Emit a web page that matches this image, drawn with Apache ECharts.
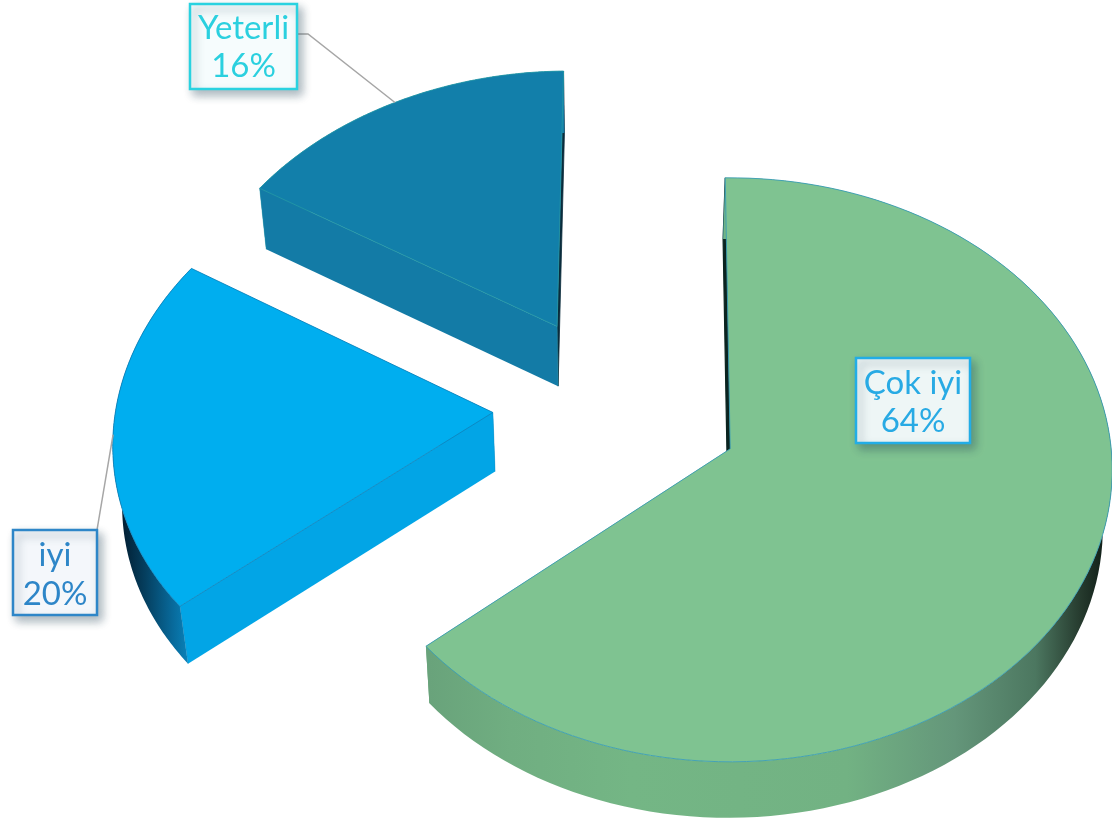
<!DOCTYPE html>
<html>
<head>
<meta charset="utf-8">
<style>html,body{margin:0;padding:0;background:#fff}#c{width:1112px;height:822px}</style>
<script src="https://cdn.jsdelivr.net/npm/echarts@6/dist/echarts.min.js"></script>
</head>
<body>
<div id="c"></div>
<script>
// Data
var categories = ['Çok iyi', 'iyi', 'Yeterli'];
var percentValues = [64, 20, 16];

// Styles
var topColors = ['#7FC391', '#00AEEF', '#127FAA'];
var edgeColors = ['#3A9DB4', '#0F86BE', '#2296A6'];
var startFaceColors = ['#0B2420', '#02A5E6', '#137BA6'];
var endFaceColors = ['#69A37B', '#02A5E6', '#0A2C3C'];
var sliverStroke = [[1.2, 0], [0, 0], [0, 0.8]];
var rimStops = [
  [[0,'#69A37B'],[0.12,'#70AE81'],[0.3,'#74B685'],[0.62,'#72B283'],[0.78,'#64967A'],[0.9,'#4C7760'],[0.97,'#24382C'],[1,'#13211A']],
  [[0,'#021F33'],[0.3,'#053F5F'],[0.65,'#08699A'],[1,'#0A93CF']],
  [[0,'#137BA6'],[1,'#137BA6']]
];
var labelBoxes = [
  {x:856, y:358, w:114, h:85, line1:383, line2:421, border:'#22ADE6', fill:'#EEF6F6', text:'#28AAE4', elbow:null},
  {x:13, y:530, w:84, h:85, line1:555, line2:594, border:'#2E86C8', fill:'#F4F7FB', text:'#2E86C8', from:[97,530], elbow:null},
  {x:190, y:4, w:107, h:85, line1:28, line2:66, border:'#2AD2E0', fill:'#F6FCFD', text:'#2BD0DF', from:[297,34], elbow:[308,34]}
];

// Perspective model of the tilted disk
var view = {x0:730, y0:449, a:381, b:290.5, k:0.0719, startDeg:-0.8, explode:0.335, ou:-0.3045, ov:0.139,
            nudges:[[0,0],[0.0105,0.0135],[0.002,0.005]],
            vanishX:610, shrink:0.0187, drop:62.6, dropSlope:0.0087};

function project(u, v) {
  var w = 1 + view.k * v;
  return [view.x0 + view.a * u / w, view.y0 - view.b * v / w];
}
function extrude(p) {
  return [p[0] + (view.vanishX - p[0]) * view.shrink, p[1] + view.drop - view.dropSlope * p[1]];
}
var total = percentValues.reduce(function (s, v) { return s + v; }, 0);
function sliceAngles(i) {
  var before = 0;
  for (var j = 0; j < i; j++) before += percentValues[j];
  var a0 = view.startDeg + before / total * 360;
  var a1 = a0 + percentValues[i] / total * 360;
  return [a0, a1];
}
function sliceGeom(i) {
  var ang = sliceAngles(i), mid = (ang[0] + ang[1]) / 2 * Math.PI / 180;
  var cu = view.ou + view.explode * Math.sin(mid) + view.nudges[i][0];
  var cv = view.ov + view.explode * Math.cos(mid) + view.nudges[i][1];
  var arc = [], steps = 120;
  for (var s = 0; s <= steps; s++) {
    var t = (ang[0] + (ang[1] - ang[0]) * s / steps) * Math.PI / 180;
    arc.push(project(cu + Math.sin(t), cv + Math.cos(t)));
  }
  return {apex: project(cu, cv), arc: arc, midPoint: project(cu + Math.sin(mid), cv + Math.cos(mid))};
}

function renderSlice(params, api) {
  var i = api.value(0), g = sliceGeom(i), arc = g.arc;
  var arcB = arc.map(extrude), apexB = extrude(g.apex);
  var xs = arcB.map(function (p) { return p[0]; });
  var minX = Math.min.apply(null, xs), maxX = Math.max.apply(null, xs);
  var stops = rimStops[i].map(function (s) { return {offset: s[0], color: s[1]}; });
  var rimFill = new echarts.graphic.LinearGradient(minX, 0, maxX, 0, stops, true);
  var last = arc.length - 1;
  return {
    type: 'group',
    children: [
      {type:'polygon', shape:{points:[g.apex, arc[last], arcB[last], apexB]},
        style:{fill: endFaceColors[i], stroke: endFaceColors[i], lineWidth: sliverStroke[i][1]}},
      {type:'polygon', shape:{points:[g.apex, arc[0], arcB[0], apexB]},
        style:{fill: startFaceColors[i], stroke: startFaceColors[i], lineWidth: sliverStroke[i][0]}},
      {type:'polygon', shape:{points: arc.concat(arcB.slice().reverse())}, style:{fill: rimFill}},
      {type:'polyline', shape:{points:[g.apex, apexB]}, style:{fill:'none', stroke: edgeColors[i], lineWidth:0.6, opacity:0.7}},
      {type:'polyline', shape:{points:[arc[0], arcB[0]]}, style:{fill:'none', stroke: edgeColors[i], lineWidth:0.6, opacity:0.7}},
      {type:'polygon', shape:{points:[g.apex].concat(arc)}, style:{fill: topColors[i], stroke: edgeColors[i], lineWidth:0.9, lineJoin:'round'}}
    ]
  };
}

function renderLabel(params, api) {
  var i = api.value(0), b = labelBoxes[i], kids = [];
  if (b.from) {
    var pts = [b.from];
    if (b.elbow) pts.push(b.elbow);
    pts.push(sliceGeom(i).midPoint);
    kids.push({type:'polyline', shape:{points:pts}, style:{fill:'none', stroke:'#A6A6A6', lineWidth:1.5}});
  }
  kids.push({type:'rect', shape:{x:b.x, y:b.y, width:b.w, height:b.h},
    style:{fill:b.fill, stroke:b.border, lineWidth:2.5, shadowBlur:9, shadowOffsetX:4, shadowOffsetY:5, shadowColor:'rgba(40,70,90,0.38)'}});
  var cx = b.x + b.w / 2, font = '400 33px Lato';
  kids.push({type:'text', style:{text:categories[i], x:cx, y:b.line1, align:'center', verticalAlign:'middle', fill:b.text, font:font}});
  kids.push({type:'text', style:{text:percentValues[i] + '%', x:cx, y:b.line2, align:'center', verticalAlign:'middle', fill:b.text, font:font}});
  return {type:'group', children:kids};
}

var indexData = categories.map(function (c, i) { return [i]; });
var chart = echarts.init(document.getElementById('c'), null, {renderer:'canvas'});
chart.setOption({
  animation:false,
  backgroundColor:'#fff',
  series:[
    {type:'custom', coordinateSystem:'none', silent:true, renderItem:renderSlice, data:indexData, z:2},
    {type:'custom', coordinateSystem:'none', silent:true, renderItem:renderLabel, data:indexData, z:3}
  ]
});
</script>
</body>
</html>
